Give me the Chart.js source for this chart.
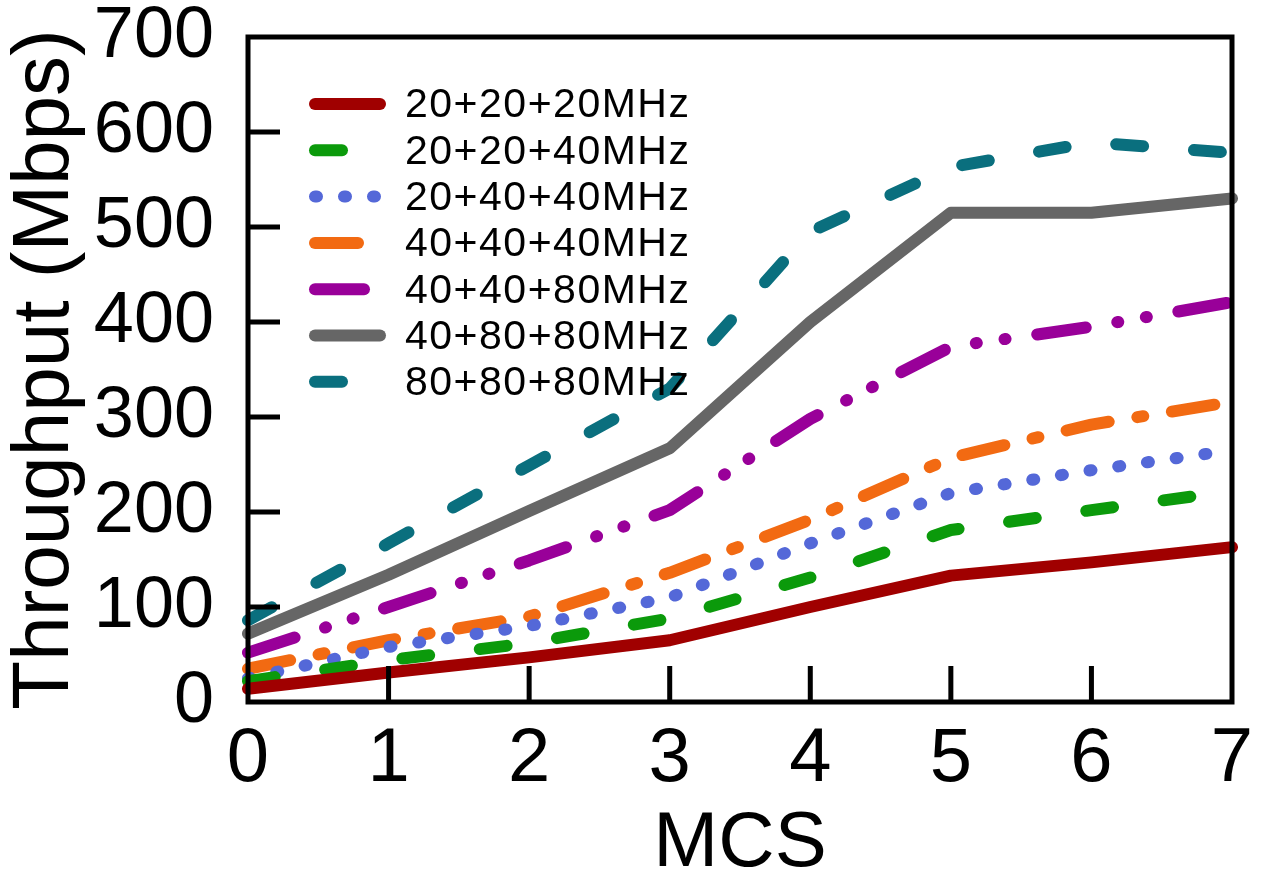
<!DOCTYPE html>
<html>
<head>
<meta charset="utf-8">
<script src="https://cdn.jsdelivr.net/npm/chart.js@4/dist/chart.umd.min.js"></script>
<style>
  html, body { margin: 0; padding: 0; background: #fff; }
  canvas { display: block; }
</style>
</head>
<body>
<canvas id="c" width="1263" height="872"></canvas>
<script>
// MCS index on the x axis
const mcs = ['0', '1', '2', '3', '4', '5', '6', '7'];
const yTicks = [0, 100, 200, 300, 400, 500, 600, 700];

// Throughput (Mbps) per channel combination
const labels = ['20+20+20MHz', '20+20+40MHz', '20+40+40MHz', '40+40+40MHz', '40+40+80MHz', '40+80+80MHz', '80+80+80MHz'];
const bw20_20_20 = [14, 31, 47, 65, 100, 133, 147, 163];
const bw20_20_40 = [22, 44, 62, 88, 131, 181, 202, 222];
const bw20_40_40 = [25, 58, 80, 110, 167, 220, 244, 265];
const bw40_40_40 = [35, 65, 90, 136, 192, 257, 292, 316];
const bw40_40_80 = [52, 100, 149, 202, 298, 374, 395, 421];
const bw40_80_80 = [72, 134, 201, 267, 400, 515, 515, 530];
const bw80_80_80 = [86, 167, 249, 330, 495, 563, 589, 578];

const colors = ['#a00000', '#0b9a0b', '#5468d8', '#f26a12', '#990099', '#666666', '#0a6f7e'];
const dashes = [[], [27, 51], [2, 27], [43, 29, 6, 29], [49, 32, 1, 28, 1, 32], [], [27, 51]];
const series = [bw20_20_20, bw20_20_40, bw20_40_40, bw40_40_40, bw40_40_80, bw40_80_80, bw80_80_80];

const FONT = "'Liberation Sans', Arial, Helvetica, sans-serif";

// frame + inward tick marks, like the gnuplot original
const framePlugin = {
    id: 'frame',
    afterDraw(chart) {
        const ctx = chart.ctx;
        const a = chart.chartArea;
        const xs = chart.scales.x, ys = chart.scales.y;
        ctx.save();
        ctx.strokeStyle = '#000';
        ctx.lineWidth = 5;
        ctx.lineCap = 'butt';
        ctx.beginPath();
        yTicks.slice(1, -1).forEach(v => {
            const y = ys.getPixelForValue(v);
            ctx.moveTo(a.left, y);
            ctx.lineTo(a.left + 32, y);
        });
        mcs.slice(1, -1).forEach((m, i) => {
            const x = xs.getPixelForValue(i + 1);
            ctx.moveTo(x, a.bottom);
            ctx.lineTo(x, a.bottom - 36);
        });
        ctx.stroke();
        ctx.strokeRect(a.left, a.top, a.right - a.left, a.bottom - a.top);
        ctx.restore();
    }
};

// legend inside the plot, top-left
const legendPlugin = {
    id: 'insideLegend',
    afterDatasetsDraw(chart) {
        const ctx = chart.ctx;
        ctx.save();
        chart.data.datasets.forEach((ds, i) => {
            const y = 104 + i * 46.3;
            ctx.strokeStyle = ds.borderColor;
            ctx.lineWidth = ds.borderWidth;
            ctx.lineCap = 'round';
            ctx.setLineDash(ds.borderDash);
            ctx.beginPath();
            ctx.moveTo(315, y);
            ctx.lineTo(380, y);
            ctx.stroke();
            ctx.setLineDash([]);
            ctx.fillStyle = '#000';
            ctx.font = '41px ' + FONT;
            ctx.letterSpacing = '1.5px';
            ctx.textBaseline = 'middle';
            ctx.textAlign = 'left';
            ctx.fillText(ds.label, 405, y + 2);
        });
        ctx.restore();
    }
};

new Chart(document.getElementById('c'), {
    type: 'line',
    data: {
        labels: mcs,
        datasets: series.map((d, i) => ({
            label: labels[i],
            data: d,
            borderColor: colors[i],
            backgroundColor: colors[i],
            borderWidth: 12,
            borderDash: dashes[i],
            borderCapStyle: 'round',
            borderJoinStyle: 'round',
            pointRadius: 0,
            tension: 0,
            fill: false
        }))
    },
    options: {
        responsive: false,
        devicePixelRatio: 1,
        animation: false,
        layout: { padding: { top: 37, right: 31, left: 0, bottom: 0 } },
        plugins: { legend: { display: false }, tooltip: { enabled: false } },
        scales: {
            x: {
                type: 'category',
                offset: false,
                grid: { display: false, drawTicks: false },
                border: { display: false },
                ticks: { color: '#000', padding: 20, maxRotation: 0, font: { family: FONT, size: 76, lineHeight: 1 } },
                title: { display: true, text: 'MCS', color: '#000', padding: 0, font: { family: FONT, size: 78, lineHeight: 0.7 } },
                afterFit(s) { s.height = 170; s.paddingLeft = 0; s.paddingRight = 0; }
            },
            y: {
                min: 0,
                max: 700,
                grid: { display: false, drawTicks: false },
                border: { display: false },
                ticks: { stepSize: 100, color: '#000', padding: 34, font: { family: FONT, size: 72, lineHeight: 1 } },
                title: { display: true, text: 'Throughput (Mbps)', color: '#000', padding: 0, font: { family: FONT, size: 80, lineHeight: 1.15 } },
                afterFit(s) { s.width = 248; s.paddingTop = 0; s.paddingBottom = 0; }
            }
        }
    },
    plugins: [framePlugin, legendPlugin]
});
</script>
</body>
</html>
